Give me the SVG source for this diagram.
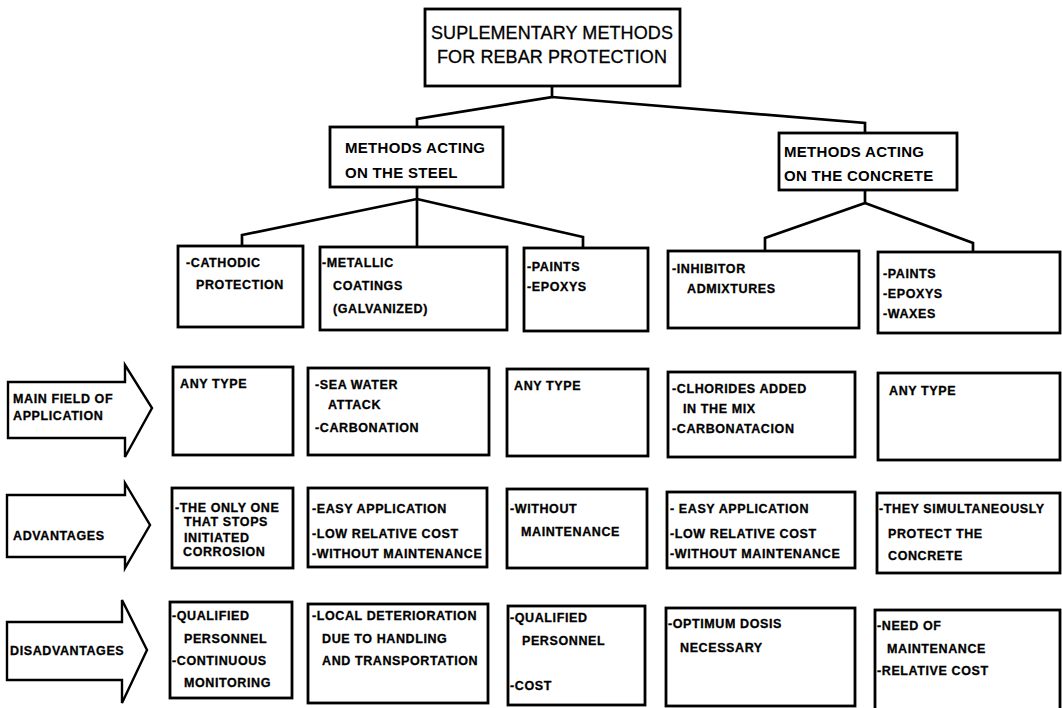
<svg xmlns="http://www.w3.org/2000/svg" width="1062" height="708" viewBox="0 0 1062 708">
<style>
.bg{fill:#fff}
.box{fill:#fff;stroke:#000;stroke-width:2.8}
.arrow{fill:#fff;stroke:#000;stroke-width:2.4;stroke-linejoin:miter}
.conn{fill:none;stroke:#000;stroke-width:2.7;stroke-linejoin:miter}
.t{font-family:"Liberation Sans",Arial,sans-serif;font-weight:bold;font-size:12.5px;letter-spacing:0.6px;fill:#000;stroke:#000;stroke-width:0.3}
.h{font-family:"Liberation Sans",Arial,sans-serif;font-weight:bold;font-size:15px;letter-spacing:0.3px;fill:#000}
.title{font-family:"Liberation Sans",Arial,sans-serif;font-size:18px;letter-spacing:0.1px;fill:#000;stroke:#000;stroke-width:0.3;text-anchor:middle}
</style>
<rect class="bg" x="0" y="0" width="1062" height="708"/>

<g id="connectors">
<polyline class="conn" points="552,86 552,97 417,119 417,127"/>
<polyline class="conn" points="552,97 865,123 865,133"/>
<polyline class="conn" points="417,187 417,199 242,235 242,246"/>
<polyline class="conn" points="417,199 417,247"/>
<polyline class="conn" points="417,199 583,237 583,248"/>
<polyline class="conn" points="865,190 865,203 765,238 765,251"/>
<polyline class="conn" points="865,203 973,243 973,252"/>
</g>

<g id="title">
<rect class="box" x="425" y="9" width="255" height="77"/>
<text class="title" x="552" y="39">SUPLEMENTARY METHODS</text>
<text class="title" x="552" y="63">FOR REBAR PROTECTION</text>
</g>

<g id="steel">
<rect class="box" x="330" y="127" width="173" height="60"/>
<text class="h" x="345" y="153">METHODS ACTING</text>
<text class="h" x="345" y="178">ON THE STEEL</text>
</g>

<g id="concrete">
<rect class="box" x="779" y="133" width="178" height="57"/>
<text class="h" x="784" y="157">METHODS ACTING</text>
<text class="h" x="784" y="181">ON THE CONCRETE</text>
</g>

<g id="m-cathodic">
<rect class="box" x="178" y="246" width="125" height="81"/>
<text class="t" x="186" y="267">-CATHODIC</text>
<text class="t" x="196" y="289">PROTECTION</text>
</g>
<g id="m-metallic">
<rect class="box" x="320" y="247" width="187" height="83"/>
<text class="t" x="322" y="267">-METALLIC</text>
<text class="t" x="333" y="290">COATINGS</text>
<text class="t" x="333" y="313">(GALVANIZED)</text>
</g>
<g id="m-paints">
<rect class="box" x="524" y="248" width="124" height="83"/>
<text class="t" x="527" y="271">-PAINTS</text>
<text class="t" x="527" y="291">-EPOXYS</text>
</g>
<g id="m-inhibitor">
<rect class="box" x="668" y="251" width="191" height="77"/>
<text class="t" x="672" y="273">-INHIBITOR</text>
<text class="t" x="687" y="293">ADMIXTURES</text>
</g>
<g id="m-paints2">
<rect class="box" x="878" y="252" width="182" height="81"/>
<text class="t" x="883" y="278">-PAINTS</text>
<text class="t" x="883" y="298">-EPOXYS</text>
<text class="t" x="883" y="318">-WAXES</text>
</g>

<g id="a-main">
<polygon class="arrow" points="8,382 125,382 125,365 152,408 125,457 125,438 8,438"/>
<text class="t" x="13" y="403">MAIN FIELD OF</text>
<text class="t" x="13" y="420">APPLICATION</text>
</g>
<g id="f-cathodic">
<rect class="box" x="173" y="367" width="120" height="88"/>
<text class="t" x="180" y="388">ANY TYPE</text>
</g>
<g id="f-metallic">
<rect class="box" x="308" y="368" width="181" height="87"/>
<text class="t" x="315" y="389">-SEA WATER</text>
<text class="t" x="328" y="409">ATTACK</text>
<text class="t" x="315" y="432">-CARBONATION</text>
</g>
<g id="f-paints">
<rect class="box" x="507" y="369" width="141" height="87"/>
<text class="t" x="514" y="390">ANY TYPE</text>
</g>
<g id="f-inhibitor">
<rect class="box" x="668" y="372" width="187" height="85"/>
<text class="t" x="672" y="393">-CLHORIDES ADDED</text>
<text class="t" x="683" y="413">IN THE MIX</text>
<text class="t" x="672" y="433">-CARBONATACION</text>
</g>
<g id="f-paints2">
<rect class="box" x="878" y="373" width="182" height="87"/>
<text class="t" x="889" y="395">ANY TYPE</text>
</g>

<g id="a-adv">
<polygon class="arrow" points="7,495 125,495 125,483 150,525 125,568 125,557 7,557"/>
<text class="t" x="13" y="540">ADVANTAGES</text>
</g>
<g id="v-cathodic">
<rect class="box" x="172" y="488" width="121" height="80"/>
<text class="t" x="175" y="512">-THE ONLY ONE</text>
<text class="t" x="184" y="526">THAT STOPS</text>
<text class="t" x="184" y="542">INITIATED</text>
<text class="t" x="183" y="556">CORROSION</text>
</g>
<g id="v-metallic">
<rect class="box" x="308" y="488" width="179" height="79"/>
<text class="t" x="312" y="513">-EASY APPLICATION</text>
<text class="t" x="312" y="538">-LOW RELATIVE COST</text>
<text class="t" x="312" y="558">-WITHOUT MAINTENANCE</text>
</g>
<g id="v-paints">
<rect class="box" x="507" y="489" width="140" height="79"/>
<text class="t" x="510" y="513">-WITHOUT</text>
<text class="t" x="521" y="536">MAINTENANCE</text>
</g>
<g id="v-inhibitor">
<rect class="box" x="667" y="492" width="188" height="76"/>
<text class="t" x="670" y="513">- EASY APPLICATION</text>
<text class="t" x="670" y="538">-LOW RELATIVE COST</text>
<text class="t" x="670" y="558">-WITHOUT MAINTENANCE</text>
</g>
<g id="v-paints2">
<rect class="box" x="877" y="493" width="183" height="80"/>
<text class="t" x="879" y="513">-THEY SIMULTANEOUSLY</text>
<text class="t" x="888" y="538">PROTECT THE</text>
<text class="t" x="888" y="560">CONCRETE</text>
</g>

<g id="a-dis">
<polygon class="arrow" points="7,622 122,622 122,600 147,650 122,703 122,680 7,680"/>
<text class="t" x="10" y="655">DISADVANTAGES</text>
</g>
<g id="d-cathodic">
<rect class="box" x="170" y="602" width="122" height="96"/>
<text class="t" x="172" y="620">-QUALIFIED</text>
<text class="t" x="184" y="643">PERSONNEL</text>
<text class="t" x="172" y="665">-CONTINUOUS</text>
<text class="t" x="184" y="687">MONITORING</text>
</g>
<g id="d-metallic">
<rect class="box" x="308" y="604" width="180" height="99"/>
<text class="t" x="312" y="620">-LOCAL DETERIORATION</text>
<text class="t" x="322" y="643">DUE TO HANDLING</text>
<text class="t" x="322" y="665">AND TRANSPORTATION</text>
</g>
<g id="d-paints">
<rect class="box" x="508" y="606" width="137" height="99"/>
<text class="t" x="510" y="622">-QUALIFIED</text>
<text class="t" x="522" y="645">PERSONNEL</text>
<text class="t" x="510" y="690">-COST</text>
</g>
<g id="d-inhibitor">
<rect class="box" x="666" y="608" width="189" height="98"/>
<text class="t" x="668" y="628">-OPTIMUM DOSIS</text>
<text class="t" x="680" y="652">NECESSARY</text>
</g>
<g id="d-paints2">
<rect class="box" x="875" y="610" width="185" height="100"/>
<text class="t" x="877" y="630">-NEED OF</text>
<text class="t" x="887" y="653">MAINTENANCE</text>
<text class="t" x="877" y="675">-RELATIVE COST</text>
</g>
</svg>
